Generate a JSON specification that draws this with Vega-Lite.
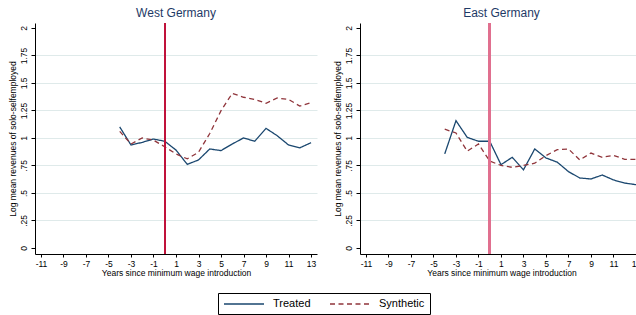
{
  "$schema": "https://vega.github.io/schema/vega-lite/v6.json",
  "padding": {"left": 8, "top": 7, "right": 0, "bottom": 0},
  "background": "white",
  "data": {"values": [
    {"region": "West", "series": "Treated", "t": -4, "v": 1.10},
    {"region": "West", "series": "Treated", "t": -3, "v": 0.936},
    {"region": "West", "series": "Treated", "t": -2, "v": 0.96},
    {"region": "West", "series": "Treated", "t": -1, "v": 0.99},
    {"region": "West", "series": "Treated", "t": 0, "v": 0.97},
    {"region": "West", "series": "Treated", "t": 1, "v": 0.89},
    {"region": "West", "series": "Treated", "t": 2, "v": 0.76},
    {"region": "West", "series": "Treated", "t": 3, "v": 0.80},
    {"region": "West", "series": "Treated", "t": 4, "v": 0.90},
    {"region": "West", "series": "Treated", "t": 5, "v": 0.885},
    {"region": "West", "series": "Treated", "t": 6, "v": 0.945},
    {"region": "West", "series": "Treated", "t": 7, "v": 1.0},
    {"region": "West", "series": "Treated", "t": 8, "v": 0.97},
    {"region": "West", "series": "Treated", "t": 9, "v": 1.087},
    {"region": "West", "series": "Treated", "t": 10, "v": 1.02},
    {"region": "West", "series": "Treated", "t": 11, "v": 0.936},
    {"region": "West", "series": "Treated", "t": 12, "v": 0.91},
    {"region": "West", "series": "Treated", "t": 13, "v": 0.957},
    {"region": "West", "series": "Synthetic", "t": -4, "v": 1.06},
    {"region": "West", "series": "Synthetic", "t": -3, "v": 0.945},
    {"region": "West", "series": "Synthetic", "t": -2, "v": 1.0},
    {"region": "West", "series": "Synthetic", "t": -1, "v": 0.98},
    {"region": "West", "series": "Synthetic", "t": 0, "v": 0.92},
    {"region": "West", "series": "Synthetic", "t": 1, "v": 0.855},
    {"region": "West", "series": "Synthetic", "t": 2, "v": 0.81},
    {"region": "West", "series": "Synthetic", "t": 3, "v": 0.87},
    {"region": "West", "series": "Synthetic", "t": 4, "v": 1.04},
    {"region": "West", "series": "Synthetic", "t": 5, "v": 1.248},
    {"region": "West", "series": "Synthetic", "t": 6, "v": 1.405},
    {"region": "West", "series": "Synthetic", "t": 7, "v": 1.37},
    {"region": "West", "series": "Synthetic", "t": 8, "v": 1.35},
    {"region": "West", "series": "Synthetic", "t": 9, "v": 1.315},
    {"region": "West", "series": "Synthetic", "t": 10, "v": 1.363},
    {"region": "West", "series": "Synthetic", "t": 11, "v": 1.35},
    {"region": "West", "series": "Synthetic", "t": 12, "v": 1.29},
    {"region": "West", "series": "Synthetic", "t": 13, "v": 1.32},
    {"region": "East", "series": "Treated", "t": -4, "v": 0.855},
    {"region": "East", "series": "Treated", "t": -3, "v": 1.157},
    {"region": "East", "series": "Treated", "t": -2, "v": 1.005},
    {"region": "East", "series": "Treated", "t": -1, "v": 0.97},
    {"region": "East", "series": "Treated", "t": 0, "v": 0.97},
    {"region": "East", "series": "Treated", "t": 1, "v": 0.757},
    {"region": "East", "series": "Treated", "t": 2, "v": 0.824},
    {"region": "East", "series": "Treated", "t": 3, "v": 0.71},
    {"region": "East", "series": "Treated", "t": 4, "v": 0.90},
    {"region": "East", "series": "Treated", "t": 5, "v": 0.818},
    {"region": "East", "series": "Treated", "t": 6, "v": 0.78},
    {"region": "East", "series": "Treated", "t": 7, "v": 0.694},
    {"region": "East", "series": "Treated", "t": 8, "v": 0.636},
    {"region": "East", "series": "Treated", "t": 9, "v": 0.627},
    {"region": "East", "series": "Treated", "t": 10, "v": 0.663},
    {"region": "East", "series": "Treated", "t": 11, "v": 0.618},
    {"region": "East", "series": "Treated", "t": 12, "v": 0.59},
    {"region": "East", "series": "Treated", "t": 13, "v": 0.575},
    {"region": "East", "series": "Synthetic", "t": -4, "v": 1.08},
    {"region": "East", "series": "Synthetic", "t": -3, "v": 1.045},
    {"region": "East", "series": "Synthetic", "t": -2, "v": 0.88},
    {"region": "East", "series": "Synthetic", "t": -1, "v": 0.945},
    {"region": "East", "series": "Synthetic", "t": 0, "v": 0.79},
    {"region": "East", "series": "Synthetic", "t": 1, "v": 0.75},
    {"region": "East", "series": "Synthetic", "t": 2, "v": 0.733},
    {"region": "East", "series": "Synthetic", "t": 3, "v": 0.75},
    {"region": "East", "series": "Synthetic", "t": 4, "v": 0.77},
    {"region": "East", "series": "Synthetic", "t": 5, "v": 0.84},
    {"region": "East", "series": "Synthetic", "t": 6, "v": 0.894},
    {"region": "East", "series": "Synthetic", "t": 7, "v": 0.90},
    {"region": "East", "series": "Synthetic", "t": 8, "v": 0.80},
    {"region": "East", "series": "Synthetic", "t": 9, "v": 0.863},
    {"region": "East", "series": "Synthetic", "t": 10, "v": 0.824},
    {"region": "East", "series": "Synthetic", "t": 11, "v": 0.842},
    {"region": "East", "series": "Synthetic", "t": 12, "v": 0.805},
    {"region": "East", "series": "Synthetic", "t": 13, "v": 0.805}
  ]},
  "config": {
    "view": {"stroke": null},
    "font": "Liberation Sans",
    "axis": {
      "domainColor": "#000000",
      "domainWidth": 1,
      "tickColor": "#000000",
      "labelColor": "#000000",
      "titleColor": "#000000",
      "labelFont": "Liberation Sans",
      "titleFont": "Liberation Sans",
      "labelFontSize": 8.5,
      "titleFontSize": 8.5,
      "titleFontWeight": "normal",
      "labelOverlap": false
    },
    "title": {"font": "Liberation Sans", "fontSize": 12, "fontWeight": "normal", "color": "#1e3a66", "offset": 2}
  },
  "spacing": 16,
  "resolve": {"scale": {"color": "shared", "strokeDash": "shared", "x": "independent"}},
  "hconcat": [
    {
      "width": 282,
      "height": 231,
      "title": {"text": "West Germany"},
      "layer": [
        {
          "transform": [{"filter": "datum.region === 'West'"}],
          "mark": {"type": "line", "strokeWidth": 1.3, "clip": true},
          "encoding": {
            "x": {"field": "t", "type": "quantitative",
                  "scale": {"domain": [-11.53, 13.53], "nice": false, "zero": false},
                  "axis": {"values": [-11, -9, -7, -5, -3, -1, 1, 3, 5, 7, 9, 11, 13], "labelExpr": "datum.value + ''", "tickCount": 40, "labelOverlap": false, "grid": false, "tickSize": 3, "labelPadding": 2, "titlePadding": 1, "title": "Years since minimum wage introduction", "labelFlush": false}},
            "y": {"field": "v", "type": "quantitative",
                  "scale": {"domain": [-0.055, 2.045], "nice": false, "zero": false},
                  "axis": {"values": [0, 0.25, 0.5, 0.75, 1, 1.25, 1.5, 1.75, 2], "tickCount": 40, "labelOverlap": false, "tickSize": 4, "labelAngle": -90, "labelAlign": "center", "labelBaseline": "bottom", "labelPadding": 3, "titlePadding": 2,
                           "labelExpr": "datum.value > 0 && datum.value < 1 ? substring(format(datum.value, '~g'), 1) : format(datum.value, '~g')",
                           "grid": true, "gridColor": "#dfeaea", "gridWidth": 1,
                           "gridOpacity": {"condition": {"test": "datum.value === 0 || datum.value === 2", "value": 0}, "value": 1},
                           "labelFlush": false,
                           "title": "Log mean revenues of solo-selfemployed"}},
            "color": {"field": "series", "type": "nominal",
                      "scale": {"domain": ["Treated", "Synthetic"], "range": ["#1a476f", "#90353b"]},
                      "legend": {"title": null, "orient": "none", "legendX": 183, "legendY": 270, "direction": "horizontal", "columns": 2,
                                 "symbolType": "M-1,0H7", "symbolSize": 100, "symbolStrokeWidth": 1.6, "labelFontSize": 11, "labelFont": "Liberation Sans", "labelColor": "#000000",
                                 "labelOffset": 38, "columnPadding": 15, "strokeColor": "#000000", "padding": 5}},
            "strokeDash": {"field": "series", "type": "nominal",
                           "scale": {"domain": ["Treated", "Synthetic"], "range": [[1, 0], [5, 3.5]]},
                           "legend": null}
          }
        },
        {
          "mark": {"type": "rule", "color": "#c0143c", "strokeWidth": 1.2},
          "encoding": {"x": {"datum": 0}}
        }
      ]
    },
    {
      "width": 276,
      "height": 231,
      "title": {"text": "East Germany", "dx": 3.5},
      "layer": [
        {
          "transform": [{"filter": "datum.region === 'East'"}],
          "mark": {"type": "line", "strokeWidth": 1.3, "clip": true},
          "encoding": {
            "x": {"field": "t", "type": "quantitative",
                  "scale": {"domain": [-11.53, 13.0], "nice": false, "zero": false},
                  "axis": {"values": [-11, -9, -7, -5, -3, -1, 1, 3, 5, 7, 9, 11, 13], "labelExpr": "datum.value + ''", "tickCount": 40, "labelOverlap": false, "grid": false, "tickSize": 3, "labelPadding": 2, "titlePadding": 1, "title": "Years since minimum wage introduction", "titleX": 141.5, "labelFlush": false}},
            "y": {"field": "v", "type": "quantitative",
                  "scale": {"domain": [-0.055, 2.045], "nice": false, "zero": false},
                  "axis": {"values": [0, 0.25, 0.5, 0.75, 1, 1.25, 1.5, 1.75, 2], "tickCount": 40, "labelOverlap": false, "tickSize": 4, "labelAngle": -90, "labelAlign": "center", "labelBaseline": "bottom", "labelPadding": 3, "titlePadding": 2,
                           "labelExpr": "datum.value > 0 && datum.value < 1 ? substring(format(datum.value, '~g'), 1) : format(datum.value, '~g')",
                           "grid": true, "gridColor": "#dfeaea", "gridWidth": 1,
                           "gridOpacity": {"condition": {"test": "datum.value === 0 || datum.value === 2", "value": 0}, "value": 1},
                           "labelFlush": false,
                           "title": "Log mean revenues of solo-selfemployed"}},
            "color": {"field": "series", "type": "nominal",
                      "scale": {"domain": ["Treated", "Synthetic"], "range": ["#1a476f", "#90353b"]}},
            "strokeDash": {"field": "series", "type": "nominal",
                           "scale": {"domain": ["Treated", "Synthetic"], "range": [[1, 0], [5, 3.5]]},
                           "legend": null}
          }
        },
        {
          "mark": {"type": "rule", "color": "#e0708f", "strokeWidth": 2},
          "encoding": {"x": {"datum": 0}}
        }
      ]
    }
  ]
}
